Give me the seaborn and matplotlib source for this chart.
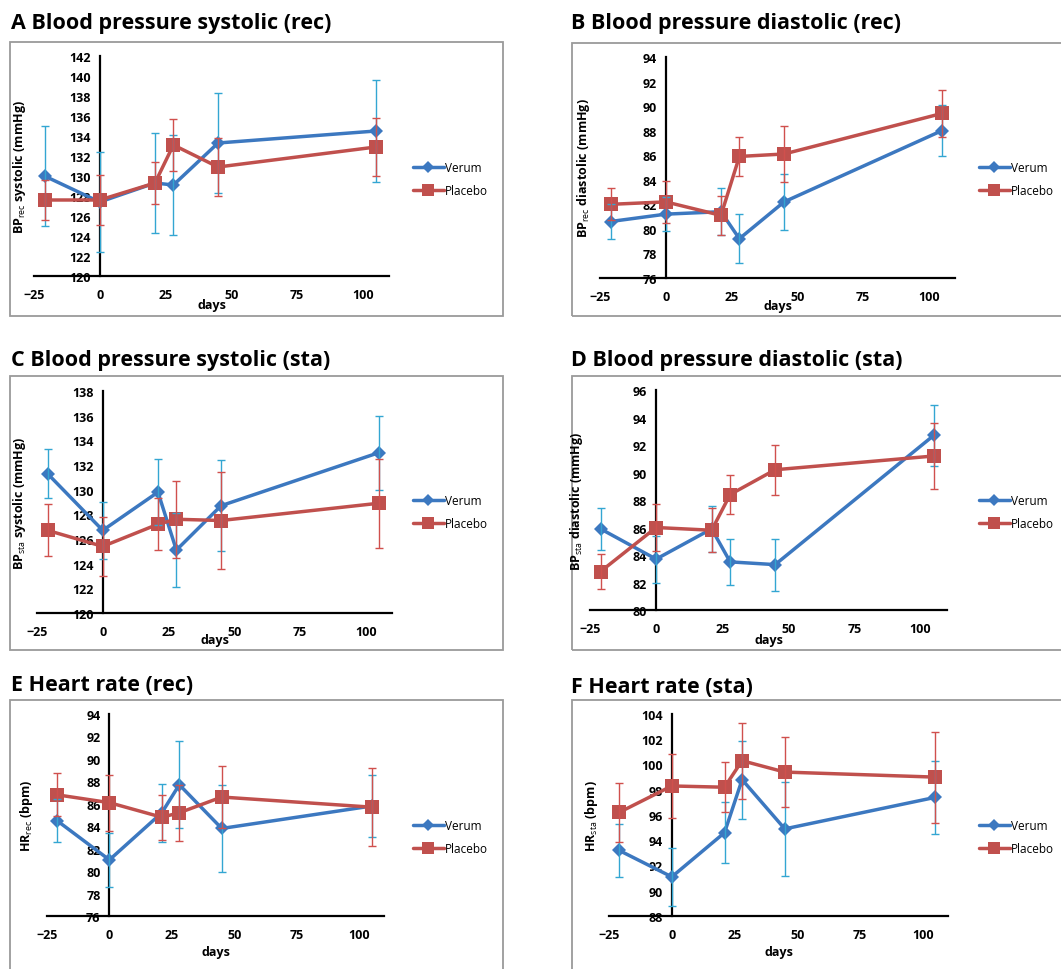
import matplotlib
matplotlib.use("Agg")
import matplotlib.pyplot as plt
from matplotlib.patches import Rectangle
from matplotlib.lines import Line2D
import seaborn as sns
import pandas as pd
import numpy as np

# ---------------- data ----------------
days = [-21, 0, 21, 28, 45, 105]
groups = ["Verum", "Placebo"]

verum_A = [130.0, 127.4, 129.3, 129.1, 133.3, 134.5]
verum_A_err = [5.0, 5.0, 5.0, 5.0, 5.0, 5.1]
placebo_A = [127.6, 127.6, 129.3, 133.1, 130.9, 132.9]
placebo_A_err = [2.0, 2.5, 2.1, 2.6, 2.9, 2.9]

verum_B = [80.6, 81.2, 81.4, 79.2, 82.2, 88.0]
verum_B_err = [1.4, 1.4, 1.9, 2.0, 2.3, 2.1]
placebo_B = [82.0, 82.2, 81.1, 85.9, 86.1, 89.4]
placebo_B_err = [1.3, 1.7, 1.6, 1.6, 2.3, 1.9]

verum_C = [131.3, 126.7, 129.8, 125.1, 128.7, 133.0]
verum_C_err = [2.0, 2.3, 2.7, 3.0, 3.7, 3.0]
placebo_C = [126.7, 125.4, 127.2, 127.6, 127.5, 128.9]
placebo_C_err = [2.1, 2.4, 2.1, 3.1, 3.9, 3.6]

verum_D = [85.9, 83.7, 85.9, 83.5, 83.3, 92.7]
verum_D_err = [1.5, 1.7, 1.7, 1.7, 1.9, 2.2]
placebo_D = [82.8, 86.0, 85.8, 88.4, 90.2, 91.2]
placebo_D_err = [1.3, 1.7, 1.6, 1.4, 1.8, 2.4]

verum_E = [84.5, 81.0, 85.2, 87.7, 83.8, 85.8]
verum_E_err = [1.9, 2.4, 2.6, 3.9, 3.9, 2.8]
placebo_E = [86.8, 86.1, 84.8, 85.2, 86.6, 85.7]
placebo_E_err = [1.9, 2.5, 2.0, 2.5, 2.8, 3.5]

verum_F = [93.2, 91.1, 94.6, 98.8, 94.9, 97.4]
verum_F_err = [2.1, 2.3, 2.4, 3.1, 3.7, 2.9]
placebo_F = [96.2, 98.3, 98.2, 100.3, 99.4, 99.0]
placebo_F_err = [2.3, 2.5, 2.0, 3.0, 2.8, 3.6]

titles = ["A Blood pressure systolic (rec)", "B Blood pressure diastolic (rec)",
          "C Blood pressure systolic (sta)", "D Blood pressure diastolic (sta)",
          "E Heart rate (rec)", "F Heart rate (sta)"]
ylabels = ["BP$_{\\mathrm{rec}}$ systolic (mmHg)", "BP$_{\\mathrm{rec}}$ diastolic (mmHg)",
           "BP$_{\\mathrm{sta}}$ systolic (mmHg)", "BP$_{\\mathrm{sta}}$ diastolic (mmHg)",
           "HR$_{\\mathrm{rec}}$ (bpm)", "HR$_{\\mathrm{sta}}$ (bpm)"]
ylims = [(120, 142), (76, 94), (120, 138), (80, 96), (76, 94), (88, 104)]
xticks = [-25, 0, 25, 50, 75, 100]
xlabel = "days"

verum_all = [verum_A, verum_B, verum_C, verum_D, verum_E, verum_F]
verum_err_all = [verum_A_err, verum_B_err, verum_C_err, verum_D_err, verum_E_err, verum_F_err]
placebo_all = [placebo_A, placebo_B, placebo_C, placebo_D, placebo_E, placebo_F]
placebo_err_all = [placebo_A_err, placebo_B_err, placebo_C_err, placebo_D_err, placebo_E_err, placebo_F_err]

# ---------------- style ----------------
sns.set_style("white")
plt.rcParams['font.family'] = ['Open Sans', 'DejaVu Sans']
plt.rcParams['mathtext.fontset'] = 'custom'
plt.rcParams['mathtext.rm'] = 'Open Sans'
plt.rcParams['mathtext.bf'] = 'Open Sans:bold'
plt.rcParams['text.color'] = 'black'
plt.rcParams['axes.labelcolor'] = 'black'

W, H = 1061, 970
fig = plt.figure(figsize=(W / 100, H / 100), dpi=100)

VERUM = "#3C78C0"
VERUM_ERR = "#33A6D2"
PLACEBO = "#C0504D"
PLACEBO_ERR = "#D0504D"

# pixel layout (left, top, right, bottom)
axes_px = [(34, 57, 389, 277), (600, 58, 955, 279),
           (37, 392, 392, 614), (590, 391, 947, 611),
           (47, 715, 384, 917), (609, 715, 948, 917)]
frames_px = [(10, 43, 503, 317), (572, 44, 1075, 317),
             (10, 377, 503, 651), (572, 377, 1075, 651),
             (10, 701, 503, 985), (572, 701, 1075, 985)]
title_px = [(11, 29), (571, 29), (11, 366), (571, 366), (11, 691), (571, 693)]
ylabel_x = [28, 592, 28, 585, 35, 600]
xlabel_top = [299, 300, 634, 634, 946, 946]
legend_px = [(413, 180), (979, 180), (413, 513), (979, 513), (413, 838), (979, 838)]


def fx(x):
    return x / W


def fy(y):
    return 1 - y / H


for i in range(6):
    l, t, r, b = frames_px[i]
    fig.add_artist(Rectangle((fx(l), fy(b)), fx(r - l), (b - t) / H,
                             transform=fig.transFigure, fill=False,
                             edgecolor="#9a9a9a", linewidth=1.3, zorder=0))
    fig.text(fx(title_px[i][0]), fy(title_px[i][1]), titles[i], fontsize=15.5,
             fontweight="bold", va="baseline", ha="left", color="black")

    l, t, r, b = axes_px[i]
    ax = fig.add_axes([fx(l), fy(b), fx(r - l), (b - t) / H])
    ax.set_facecolor("none")

    df = pd.DataFrame({
        "days": days * 2,
        "value": verum_all[i] + placebo_all[i],
        "group": ["Verum"] * len(days) + ["Placebo"] * len(days),
    })
    err_map = {"Verum": verum_err_all[i], "Placebo": placebo_err_all[i]}
    col_map = {"Verum": VERUM, "Placebo": PLACEBO}
    ecol_map = {"Verum": VERUM_ERR, "Placebo": PLACEBO_ERR}
    mk_map = {"Verum": "D", "Placebo": "s"}
    ms_map = {"Verum": 7, "Placebo": 10}

    for g in groups:
        sub = df[df.group == g]
        sns.lineplot(data=sub, x="days", y="value", color=col_map[g],
                     marker=mk_map[g], markersize=ms_map[g], markeredgewidth=0,
                     linewidth=2.5, ax=ax, legend=False, zorder=3, errorbar=None)
        ax.errorbar(sub["days"], sub["value"], yerr=err_map[g], fmt="none",
                    ecolor=ecol_map[g], elinewidth=1.0, capsize=3, capthick=1.0,
                    zorder=4)

    ax.set_xlim(-25, 110)
    ax.set_ylim(*ylims[i])
    ax.set_xticks(xticks)
    ax.set_yticks(np.arange(ylims[i][0], ylims[i][1] + 0.1, 2))
    ax.spines["left"].set_position(("data", 0))
    ax.spines["top"].set_visible(False)
    ax.spines["right"].set_visible(False)
    for s in ("left", "bottom"):
        ax.spines[s].set_linewidth(1.6)
        ax.spines[s].set_color("black")
        ax.spines[s].set_zorder(2)
    ax.tick_params(axis="both", direction="out", length=3.5, width=1.4,
                   labelsize=9, colors="black")
    ax.tick_params(axis="x", pad=5)
    ax.tick_params(axis="y", pad=3)
    for lab in ax.get_xticklabels() + ax.get_yticklabels():
        lab.set_fontweight("bold")

    ax.set_xlabel(xlabel, fontsize=9, fontweight="bold")
    ax.set_ylabel(ylabels[i], fontsize=9, fontweight="bold")
    ax.yaxis.set_label_coords((ylabel_x[i] - l) / (r - l), 0.5)
    ax.xaxis.set_label_coords(0.5, -(xlabel_top[i] - b) / (b - t))

    handles = [Line2D([], [], color=col_map[g], marker=mk_map[g],
                      markersize=ms_map[g] * 0.85, markeredgewidth=0, linewidth=2.5)
               for g in groups]
    fig.legend(handles, groups, loc="center left",
               bbox_to_anchor=(fx(legend_px[i][0]), fy(legend_px[i][1])),
               frameon=False, fontsize=8.5, handlelength=2.6, handletextpad=0.1,
               labelspacing=0.8, borderaxespad=0, borderpad=0)

fig.savefig("out.png", dpi=100)
